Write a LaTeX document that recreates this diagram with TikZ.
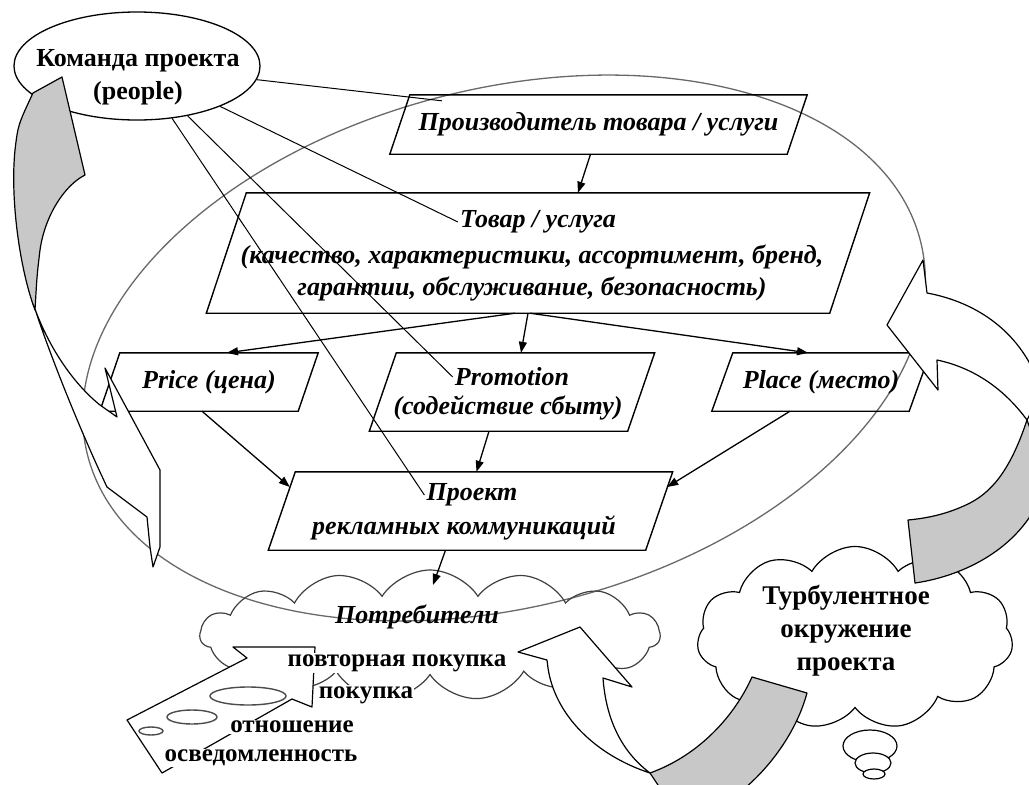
\documentclass[tikz,border=0pt]{standalone}
\usepackage{fontspec}
\setmainfont{Liberation Serif}
\usepackage{tikz}
\usetikzlibrary{shapes.geometric, shapes.symbols, arrows.meta, calc}
\definecolor{ribbongray}{RGB}{200,200,200}
\definecolor{orbitgray}{RGB}{105,105,105}

% slanted outline round a rectangular node
\newcommand{\slantframe}[2]{%
  \draw[frame] ($(#1.north west)+(#2,0)$) -- ($(#1.north east)+(#2,0)$)
    -- ($(#1.south east)+(-#2,0)$) -- ($(#1.south west)+(-#2,0)$) -- cycle;}

\begin{document}
\begin{tikzpicture}[
    x=1pt, y=-1pt,
    frame/.style={draw=black, line width=1.4pt},
    slot/.style={rectangle, inner sep=0pt},
    boxtext/.style={inner sep=2pt, align=center, font=\fontsize{26}{32}\selectfont\bfseries\itshape},
    plaintext/.style={inner sep=1pt, align=center, font=\fontsize{25}{31}\selectfont\bfseries},
    flow/.style={-{Triangle[length=11pt, width=8pt]}, line width=1.3pt},
    tie/.style={line width=1pt},
    orbit/.style={draw=orbitgray, line width=1.3pt},
    ribbon/.style={draw=black, line width=1.2pt, fill=white, line join=round},
    ribbonback/.style={ribbon, fill=ribbongray},
    puff/.style={ellipse, draw=black, line width=1.2pt, fill=white, inner sep=0pt}
]
\useasboundingbox (0,0) rectangle (1029,785);
\fill[white] (0,0) rectangle (1029,785);

% orbit round the marketing mix
\draw[orbit, rotate around={14.5:(504,348)}] (504,348) ellipse [x radius=430, y radius=259];

% boxes
\node[slot, boxtext, minimum width=397pt, minimum height=59pt] (maker) at (598.5,124.5) {Производитель товара / услуги};
\slantframe{maker}{10}
\node[slot, minimum width=623pt, minimum height=120pt] (goods) at (538,253) {};
\slantframe{goods}{20}
\node[boxtext] (goodshead) at (538,222) {Товар / услуга};
\node[boxtext] (goodsbody) at (532,273) {(качество, характеристики, ассортимент, бренд,\\гарантии, обслуживание, безопасность)};
\node[slot, boxtext, minimum width=198pt, minimum height=58pt] (price) at (209,382) {Price (цена)};
\slantframe{price}{10}
\node[slot, minimum width=258pt, minimum height=78pt] (promo) at (512,392) {};
\slantframe{promo}{13.5}
\node[boxtext] (promohead) at (512,377) {Promotion};
\node[boxtext] (promobody) at (508,408) {(содействие сбыту)};
\node[slot, boxtext, minimum width=197pt, minimum height=58pt] (place) at (821,382) {Place (место)};
\slantframe{place}{10.5}
\node[slot, minimum width=377pt, minimum height=78pt] (project) at (470.5,511) {};
\slantframe{project}{13.5}
\node[boxtext] (projecthead) at (472,495) {Проект};
\node[boxtext] (projectbody) at (464,528) {рекламных коммуникаций};

% flows between boxes
\draw[flow] ($(maker.south)+(-8,0)$) -- ($(goods.north)+(40,0)$);
\draw[flow] ($(goods.south)+(-23,0)$) -- ($(price.north)+(18,0)$);
\draw[flow] ($(goods.south)+(-10,0)$) -- ($(promo.north)+(9,0)$);
\draw[flow] ($(goods.south)+(-8,0)$) -- ($(place.north)+(-13,0)$);
\draw[flow] ($(price.south)+(-7,0)$) -- ($(project.west)+(8,-24)$);
\draw[flow] ($(promo.south)+(-23,0)$) -- ($(project.north)+(6,0)$);
\draw[flow] ($(place.south)+(-31,0)$) -- ($(project.east)+(8,-24)$);

% project team
\node[ellipse, draw=black, line width=1.3pt, fill=white, minimum width=246pt, minimum height=108pt] (team) at (137,66) {};
\node[plaintext, font=\fontsize{26}{33}\selectfont\bfseries] (teamtext) at (138,77) {Команда проекта\\(people)};
\draw[tie] (team) -- ($(maker.north west)+(42,6)$);
\draw[tie] (team) -- (goodshead.west);
\draw[tie] (team) -- (promohead.west);
\draw[tie] (team) -- (projecthead.west);

% consumers
\node[cloud, draw=black!75, line width=1.2pt, cloud puffs=15, cloud puff arc=115, aspect=3.5, minimum width=460pt, minimum height=130pt, inner sep=0pt] (consumers) at (430,635) {};
\node[boxtext] (consumerstext) at (417,617) {Потребители};
\draw[flow] ($(project.south)+(-25,0)$) -- ($(consumers.center)+(3,-50)$);

% loyalty steps
\draw[ribbon] (127,720) -- (247,658) -- (233,647) -- (315,647) -- (312,707) -- (292,699) -- (162,773) -- cycle;
\foreach \cx/\cy/\rx/\ry in {151/731/12/4, 192/717/25/7, 248/696/38/9}
  \draw[black!70, line width=1.4pt] (\cx,\cy) ellipse [x radius=\rx, y radius=\ry];
\node[plaintext, fill=white] (repeatbuy) at (397,663) {повторная покупка};
\node[plaintext, fill=white] (buy) at (366,695) {покупка};
\node[plaintext, fill=white] (attitude) at (292,727) {отношение};
\node[plaintext, fill=white] (awareness) at (261,758) {осведомленность};

% environment
\node[cloud, draw=black, line width=1.2pt, fill=white, cloud puffs=11, cloud puff arc=120, aspect=1.7, minimum width=316pt, minimum height=183pt, inner sep=0pt] (turbulence) at (855,638) {};
\node[align=center, font=\fontsize{27}{33}\selectfont\bfseries] (turbtext) at (846,631) {Турбулентное\\окружение\\проекта};
\node[puff, minimum width=54pt, minimum height=32pt] (bubbleA) at (870,746) {};
\node[puff, minimum width=36pt, minimum height=20pt] (bubbleB) at (873,763) {};
\node[puff, minimum width=22pt, minimum height=10pt] (bubbleC) at (874,774) {};

% big curved ribbons
\filldraw[ribbonback] (33,93) -- (62,77) -- (85,175) .. controls (65,185) and (45,215) .. (40,250)
  .. controls (37,275) .. (35,310) .. controls (20,270) and (10,200) .. (15,150) .. controls (18,125) .. (33,93) -- cycle;
\filldraw[ribbon] (35,309) .. controls (50,350) and (75,385) .. (100,405) -- (117,417) -- (105,368) -- (160,470)
  -- (160,547) -- (153,567) -- (150,547) -- (147,517) -- (107,487) .. controls (80,430) and (50,355) .. (35,309) -- cycle;
\filldraw[ribbon] (887,325) -- (923,260) -- (927,293) .. controls (965,300) and (1005,320) .. (1029,362)
  -- (1040,395) -- (1027,420) .. controls (1005,390) and (975,368) .. (937,360) -- (938,390) -- cycle;
\filldraw[ribbonback] (1027,420) .. controls (1012,465) and (995,490) .. (970,503) .. controls (950,513) and (930,518) .. (908,520)
  -- (915,583) .. controls (950,578) and (1000,560) .. (1029,518) -- (1045,470) -- cycle;
\filldraw[ribbon] (518,652) -- (580,627) -- (632,687) -- (603,678) .. controls (606,720) and (622,752) .. (650,773)
  .. controls (595,755) and (555,715) .. (548,668) -- (547,660) -- cycle;
\filldraw[ribbonback] (650,773) .. controls (700,755) and (735,715) .. (752,677) -- (807,693)
  .. controls (797,730) and (772,765) .. (745,788) -- (660,788) -- cycle;
\end{tikzpicture}
\end{document}
